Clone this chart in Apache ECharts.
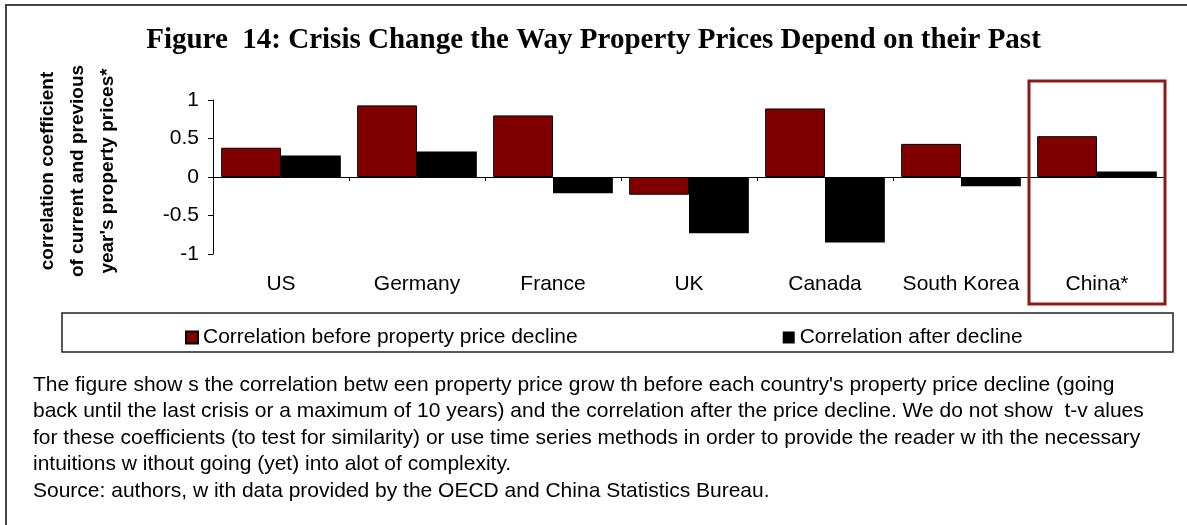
<!DOCTYPE html>
<html><head><meta charset="utf-8">
<script src="https://cdn.jsdelivr.net/npm/echarts@6/dist/echarts.min.js"></script>
<style>html,body{margin:0;padding:0;background:#fff}#c{width:1187px;height:525px}</style>
</head><body><div id="c"></div>
<script>
const categories = ['US', 'Germany', 'France', 'UK', 'Canada', 'South Korea', 'China*'];
const beforeDecline = [0.38, 0.93, 0.80, -0.23, 0.89, 0.43, 0.53];
const afterDecline = [0.28, 0.33, -0.21, -0.73, -0.85, -0.12, 0.07];
const yMin = -1, yMax = 1, yStep = 0.5;
const seriesNames = ['Correlation before property price decline', 'Correlation after decline'];
const titleText = 'Figure  14: Crisis Change the Way Property Prices Depend on their Past';
const yTitleLines = ['correlation coefficient', 'of current and previous', "year's property prices*"];
const noteLines = [
  "The figure show s the correlation betw een property price grow th before each country's property price decline (going",
  "back until the last crisis or a maximum of 10 years) and the correlation after the price decline. We do not show  t-v alues",
  "for these coefficients (to test for similarity) or use time series methods in order to provide the reader w ith the necessary",
  "intuitions w ithout going (yet) into alot of complexity.",
  "Source: authors, w ith data provided by the OECD and China Statistics Bureau."
];
const highlightCategory = 'China*';

const SANS = "'Liberation Sans', Arial, sans-serif";
const chart = echarts.init(document.getElementById('c'), null, {renderer: 'canvas'});

const option = {
  backgroundColor: '#ffffff',
  animation: false,
  title: {
    text: titleText, left: 'center', top: 21,
    textStyle: {fontFamily: "'Liberation Serif', 'Times New Roman', serif", fontWeight: 'bold', fontSize: 29, color: '#000'}
  },
  legend: {
    data: seriesNames, left: 180, top: 322, itemWidth: 12, itemHeight: 12, itemGap: 205,
    icon: 'rect',
    textStyle: {fontFamily: SANS, fontSize: 21, color: '#000'}
  },
  grid: {left: 213, right: 22, top: 100, bottom: 271, containLabel: false},
  xAxis: [
    {
      type: 'category', data: categories, position: 'bottom',
      axisLine: {show: true, onZero: true, lineStyle: {color: '#000', width: 1}},
      axisTick: {show: true, length: 4, lineStyle: {color: '#000'}},
      axisLabel: {show: false}, splitLine: {show: false}
    },
    {
      type: 'category', data: categories, position: 'bottom',
      axisLine: {show: false, onZero: false},
      axisTick: {show: false},
      axisLabel: {show: true, interval: 0, margin: 20, fontFamily: SANS, fontSize: 21, color: '#000'},
      splitLine: {show: false}
    }
  ],
  yAxis: {
    type: 'value', min: yMin, max: yMax, interval: yStep,
    axisLine: {show: true, lineStyle: {color: '#000', width: 1}},
    axisTick: {show: true, length: 5, lineStyle: {color: '#000'}},
    axisLabel: {margin: 14, fontFamily: SANS, fontSize: 21, color: '#000'},
    splitLine: {show: false}
  },
  series: [
    {
      name: seriesNames[0], type: 'bar', xAxisIndex: 0, data: beforeDecline,
      barGap: '0%', barCategoryGap: '12%',
      itemStyle: {color: '#800000', borderColor: '#000', borderWidth: 1}
    },
    {
      name: seriesNames[1], type: 'bar', xAxisIndex: 0, data: afterDecline,
      barGap: '0%', barCategoryGap: '12%',
      itemStyle: {color: '#000000'}
    }
  ]
};
chart.setOption(option);

const g = [];
g.push({type: 'line', shape: {x1: 5, y1: 5, x2: 1187, y2: 5}, style: {stroke: '#444', lineWidth: 2}, z: 10});
g.push({type: 'line', shape: {x1: 6, y1: 5, x2: 6, y2: 525}, style: {stroke: '#444', lineWidth: 2}, z: 10});
g.push({
  type: 'text', x: 78, y: 171, rotation: Math.PI / 2,
  style: {text: yTitleLines.join('\n'), font: "bold 19px " + SANS, fill: '#000', align: 'center', verticalAlign: 'middle', lineHeight: 30}
});
g.push({type: 'rect', shape: {x: 62, y: 313, width: 1111, height: 39}, style: {fill: 'none', stroke: '#222', lineWidth: 1.5}});
noteLines.forEach((t, i) => {
  g.push({type: 'text', x: 33, y: 385 + i * 26.5, style: {text: t, font: "21px " + SANS, fill: '#000', align: 'left', verticalAlign: 'middle'}});
});
const idx = categories.indexOf(highlightCategory);
const cx = chart.convertToPixel({xAxisIndex: 0}, idx);
const c0 = chart.convertToPixel({xAxisIndex: 0}, 0);
const c1 = chart.convertToPixel({xAxisIndex: 0}, 1);
const band = c1 - c0;
g.push({type: 'rect', shape: {x: cx - band / 2, y: 81, width: band, height: 223}, style: {fill: 'none', stroke: '#8c1a1a', lineWidth: 3}, z: 20});
chart.setOption({graphic: g});
</script></body></html>
